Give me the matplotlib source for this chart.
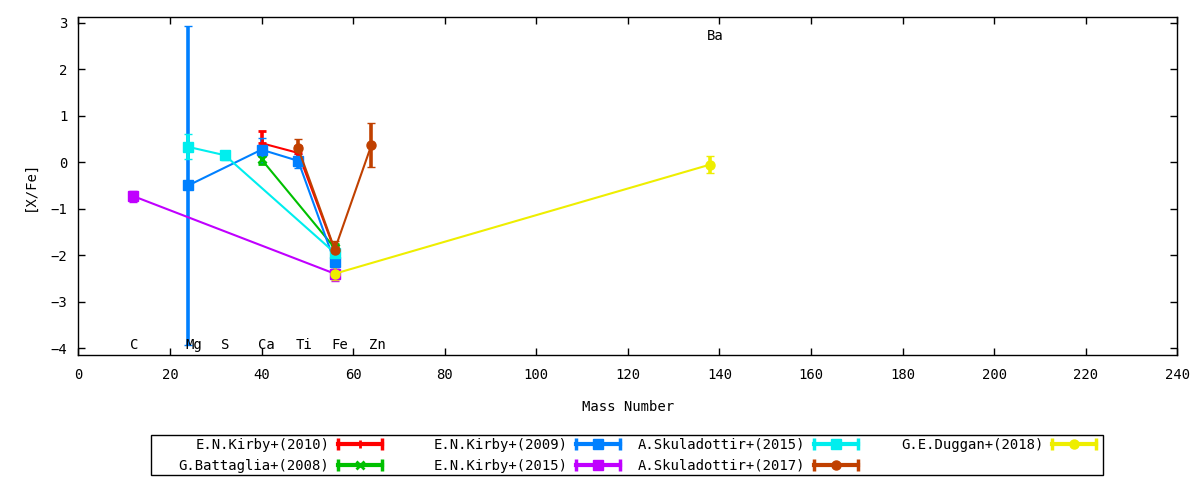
import matplotlib
matplotlib.use('Agg')
import matplotlib.pyplot as plt
from matplotlib.lines import Line2D
from matplotlib.patches import Rectangle
from matplotlib.legend_handler import HandlerBase

plt.rcParams['font.family'] = ['DejaVu Sans Mono']
plt.rcParams['font.size'] = 10

# element labels
elements = ['C', 'Mg', 'S', 'Ca', 'Ti', 'Fe', 'Zn', 'Ba']
element_x = [12.2, 25.3, 32, 41, 49.3, 57.1, 65.2, 139]
element_y = [-3.93, -3.93, -3.93, -3.93, -3.93, -3.93, -3.93, 2.71]

# series: mass number, [X/Fe], error
kirby2010_x = [40, 48, 56]
kirby2010_y = [0.41, 0.20, -1.90]
kirby2010_e = [0.27, 0.15, 0.10]

battaglia2008_x = [40, 56]
battaglia2008_y = [0.06, -1.85]
battaglia2008_e = [0.10, 0.08]

kirby2009_x = [24, 40, 48, 56]
kirby2009_y = [-0.50, 0.27, 0.03, -2.15]
kirby2009_e = [3.43, 0.26, 0.15, 0.10]

kirby2015_x = [12, 56]
kirby2015_y = [-0.73, -2.40]
kirby2015_e = [0.12, 0.15]

skul2015_x = [24, 32, 56]
skul2015_y = [0.33, 0.15, -1.95]
skul2015_e = [0.27, 0.10, 0.10]

skul2017_x = [48, 56, 64]
skul2017_y = [0.30, -1.88, 0.37]
skul2017_e = [0.21, 0.18, 0.47]

duggan2018_x = [56, 138]
duggan2018_y = [-2.40, -0.05]
duggan2018_e = [0.14, 0.19]

series = [
    ('E.N.Kirby+(2010)', kirby2010_x, kirby2010_y, kirby2010_e, '#ff0000', '+'),
    ('G.Battaglia+(2008)', battaglia2008_x, battaglia2008_y, battaglia2008_e, '#00c000', 'x'),
    ('E.N.Kirby+(2009)', kirby2009_x, kirby2009_y, kirby2009_e, '#0080ff', 's'),
    ('E.N.Kirby+(2015)', kirby2015_x, kirby2015_y, kirby2015_e, '#c000ff', 's'),
    ('A.Skuladottir+(2015)', skul2015_x, skul2015_y, skul2015_e, '#00eeee', 's'),
    ('A.Skuladottir+(2017)', skul2017_x, skul2017_y, skul2017_e, '#c04000', 'o'),
    ('G.E.Duggan+(2018)', duggan2018_x, duggan2018_y, duggan2018_e, '#eeee00', 'o'),
]


class ErrBarHandler(HandlerBase):
    # gnuplot-like sample: |---o---|
    def create_artists(self, legend, orig_handle, xdescent, ydescent,
                       width, height, fontsize, trans):
        x0 = -xdescent
        x1 = -xdescent + width
        y = height / 2 - ydescent
        c = orig_handle.get_color()
        bar = Line2D([x0, x1], [y, y], color=c, lw=3, transform=trans)
        caps = Line2D([x0, x1], [y, y], ls='none', marker='|', ms=9, mew=2.5,
                      color=c, transform=trans)
        mk = Line2D([(x0 + x1) / 2], [y], ls='none',
                    marker=orig_handle.get_marker(),
                    ms=orig_handle.get_markersize(),
                    mew=orig_handle.get_markeredgewidth(),
                    color=c, transform=trans)
        return [bar, caps, mk]


fig = plt.figure(figsize=(12, 4.8), dpi=100)
ax = fig.add_axes([0.0653, 0.2604, 0.9158, 0.7036])

handles = []
for name, x, y, e, col, mk in series:
    ms, mew = (6.5, 1) if mk in ('s', 'o') else (6, 2)
    ax.errorbar(x, y, yerr=e, color=col, marker=mk, ms=ms, mew=mew,
                lw=1.5, elinewidth=2.6, capsize=3, capthick=2.2)
    handles.append(Line2D([], [], color=col, marker=mk, ms=ms, mew=mew,
                          label=name))

for el, ex, ey in zip(elements, element_x, element_y):
    ax.text(ex, ey, el, ha='center', va='center')

ax.set_xlim(0, 240)
ax.set_ylim(-4.15, 3.12)
ax.set_xticks(range(0, 241, 20))
ax.set_yticks(range(-4, 4))
ax.tick_params(direction='in', top=True, right=True, length=5, width=1)
ax.tick_params(axis='x', pad=9)
ax.tick_params(axis='y', pad=8)
for s in ax.spines.values():
    s.set_linewidth(1)
ax.set_xlabel('Mass Number')
ax.set_ylabel('[X/Fe]')
ax.xaxis.set_label_coords(0.5, -0.132)
ax.yaxis.set_label_coords(-0.038, 0.5)

# legend: 4 columns, text on the left of the sample
col_right = [382, 620, 858, 1096]
groups = [handles[0:2], handles[2:4], handles[4:6], handles[6:7]]
for xr, grp in zip(col_right, groups):
    fig.legend(handles=grp, loc='upper right',
               bbox_to_anchor=(xr / 1200, 1 - 438 / 480),
               bbox_transform=fig.transFigure, frameon=False,
               markerfirst=False, borderpad=0, borderaxespad=0,
               handlelength=3.2, handletextpad=0.6, labelspacing=0.5,
               handler_map={Line2D: ErrBarHandler()})
fig.add_artist(Rectangle((151 / 1200, 1 - 475 / 480), 952 / 1200, 40 / 480,
                         transform=fig.transFigure, fill=False,
                         edgecolor='black', lw=1))

plt.savefig('out.png', dpi=100)
